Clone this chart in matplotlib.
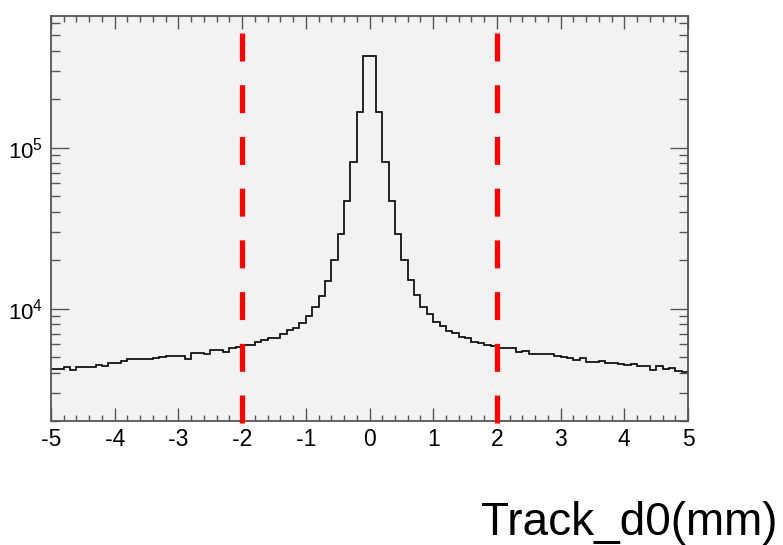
import numpy as np
import matplotlib
matplotlib.use("Agg")
import matplotlib.pyplot as plt
from matplotlib.ticker import FixedLocator, FixedFormatter, MultipleLocator, LogLocator, NullFormatter

plt.rcParams['font.family'] = ['Liberation Sans', 'DejaVu Sans']
plt.rcParams['mathtext.fontset'] = 'custom'
plt.rcParams['mathtext.rm'] = 'Liberation Sans'
plt.rcParams['mathtext.it'] = 'Liberation Sans:italic'

# ---- data ----
bin_edges = np.linspace(-5.0, 5.0, 101)
counts_left = [
    4240, 4240, 4320, 4160, 4320, 4320, 4320, 4470, 4390, 4570,
    4570, 4710, 4850, 4850, 4850, 4850, 4910, 4990, 5090, 5050,
    5050, 4880, 5330, 5330, 5240, 5510, 5560, 5380, 5670, 5780,
    5940, 5940, 6210, 6410, 6540, 6540, 6970, 7330, 7570, 8170,
    9000, 10200, 12000, 14800, 20000, 29200, 46700, 82000, 166000, 374000,
]
counts_right = [
    374000, 166000, 82000, 46700, 29200, 20000, 15100, 12200, 10300, 9200,
    8200, 7760, 7220, 7050, 6650, 6520, 6180, 6070, 5980, 5830,
    5650, 5650, 5650, 5380, 5460, 5240, 5240, 5240, 5240, 5060,
    4980, 4910, 4820, 4910, 4670, 4670, 4750, 4600, 4600, 4540,
    4470, 4540, 4390, 4390, 4180, 4410, 4220, 4280, 4080, 4020,
]
counts = np.array(counts_left + counts_right, dtype=float)
cut_positions = [-2.0, 2.0]
x_ticks = [-5, -4, -3, -2, -1, 0, 1, 2, 3, 4, 5]
x_ticklabels = ['-5', '-4', '-3', '-2', '-1', '0', '1', '2', '3', '4', '5']
y_ticks = [1e4, 1e5]
y_ticklabels = [r'$\mathregular{10^{4}}$', r'$\mathregular{10^{5}}$']
x_label = 'Track_d0(mm)'

# ---- figure ----
W, H = 783, 545
fig = plt.figure(figsize=(W / 100, H / 100), dpi=100)
fig.patch.set_facecolor('white')
L, R, T, B = 51, 688, 16, 421
ax = fig.add_axes([L / W, 1 - B / H, (R - L) / W, (B - T) / H])
ax.set_facecolor('#f2f2f2')

ax.stairs(counts, bin_edges, color='black', linewidth=1.2, baseline=None)

ax.set_yscale('log')
ax.set_xlim(-5, 5)
ax.set_ylim(2000, 6.6e5)

for xc in cut_positions:
    ax.plot([xc, xc], [5.18e5, 1836], color='red', linewidth=3.8,
            linestyle=(0, (5.3, 4.5)), clip_on=False, zorder=5)

for s in ax.spines.values():
    s.set_color('#555555')
    s.set_linewidth(1.3)

ax.xaxis.set_major_locator(FixedLocator(x_ticks))
ax.xaxis.set_major_formatter(FixedFormatter(x_ticklabels))
ax.xaxis.set_minor_locator(MultipleLocator(0.2))
ax.yaxis.set_major_locator(FixedLocator(y_ticks))
ax.yaxis.set_major_formatter(FixedFormatter(y_ticklabels))
ax.yaxis.set_minor_locator(LogLocator(base=10, subs=np.arange(2, 10)))
ax.yaxis.set_minor_formatter(NullFormatter())

ax.tick_params(axis='x', which='major', direction='in', top=True, bottom=True,
               length=9.5, width=1.0, color='#555555', labelsize=16.5, pad=5)
ax.tick_params(axis='x', which='minor', direction='in', top=True, bottom=True,
               length=4.5, width=1.0, color='#555555')
ax.tick_params(axis='y', which='major', direction='in', left=True, right=True,
               length=13, width=1.0, color='#555555', labelsize=16, pad=6)
ax.tick_params(axis='y', which='minor', direction='in', left=True, right=True,
               length=6.5, width=1.0, color='#555555')

fig.text(778 / W, 1 - 535 / H, x_label, ha='right', va='baseline',
         fontsize=33, color='black')

fig.savefig('out.png', dpi=100)
